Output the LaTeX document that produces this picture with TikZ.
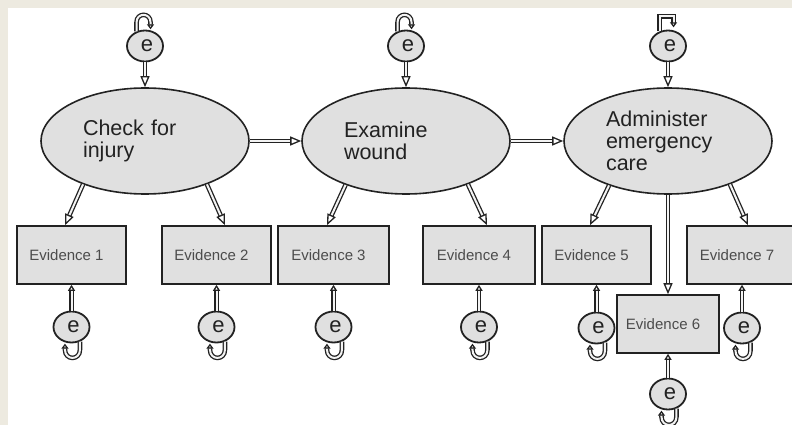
\documentclass[tikz,border=0pt]{standalone}
\usepackage{fontspec}
\setmainfont{Liberation Sans}
\usetikzlibrary{shapes.geometric,arrows.meta}
\definecolor{frame}{HTML}{EDEAE0}
\definecolor{ink}{HTML}{222222}
\definecolor{shade}{HTML}{E0E0E0}
\begin{document}
\begin{tikzpicture}[x=1pt,y=-1pt,
  task/.style={ellipse, draw=ink, line width=1.6pt, fill=shade,
    minimum width=208pt, minimum height=106pt, inner sep=0pt,
    text width=124pt, align=left, text=ink,
    font=\fontsize{21.5}{22}\selectfont},
  evid/.style={rectangle, draw=ink, line width=1.6pt, fill=shade,
    minimum width=110pt, minimum height=58pt, inner sep=0pt,
    text=black!70, font=\fontsize{15}{18}\selectfont,
    execute at begin node=\hspace*{-10pt}},
  err/.style={ellipse, draw=ink, line width=1.8pt, fill=shade,
    minimum width=36pt, minimum height=31pt, inner sep=0pt,
    text=ink, font=\fontsize{22}{22}\selectfont,
    execute at begin node=\hspace*{4pt}},
  link/.style={draw=ink, line width=1.3pt, double=white!60!shade,
    double distance=2pt, -{Triangle[open,length=11pt,width=9pt]}},
  selfloop/.style={draw=ink, line width=1.3pt, double=white!60!shade,
    double distance=2pt, -{Triangle[open,length=5pt,width=7pt]}}]

\useasboundingbox (0,0) rectangle (792,425);
\clip (0,0) rectangle (792,425);
\fill[frame] (0,0) rectangle (792,425);
\fill[white] (8,8) rectangle (792,425);

% latent task variables
\node[task] (E1) at (145,141) {Check for\\injury};
\node[task] (E2) at (406,141) {Examine\\wound};
\node[task] (E3) at (668,141) {Administer\\emergency\\care};

% error terms of the tasks
\node[err] (t1) at (145,46) {e};
\node[err] (t2) at (406,46) {e};
\node[err] (t3) at (668,46) {e};

% observed evidence
\node[evid, minimum width=109pt] (ev1) at (71.5,255) {Evidence 1};
\node[evid, minimum width=109pt] (ev2) at (216.5,255) {Evidence 2};
\node[evid, minimum width=111pt] (ev3) at (333.5,255) {Evidence 3};
\node[evid, minimum width=112pt] (ev4) at (479,255) {Evidence 4};
\node[evid, minimum width=109pt] (ev5) at (596.5,255) {Evidence 5};
\node[evid, minimum width=102pt] (ev6) at (668,324) {Evidence 6};
\node[evid, minimum width=110pt] (ev7) at (742,255) {Evidence 7};

% error terms of the evidence
\node[err] (b1) at (71.5,327) {e};
\node[err] (b2) at (216.5,327) {e};
\node[err] (b3) at (333.5,327) {e};
\node[err] (b4) at (479,327) {e};
\node[err] (b5) at (596.5,328) {e};
\node[err] (b6) at (668,394) {e};
\node[err] (b7) at (742,328) {e};

% task sequence
\draw[link] (E1) -- (E2);
\draw[link] (E2) -- (E3);

% task errors
\draw[link] (t1) -- (E1);
\draw[link] (t2) -- (E2);
\draw[link] (t3) -- (E3);

% tasks to evidence
\draw[link] (E1.215) -- ([xshift=-6.5pt]ev1.north);
\draw[link] (E1.325) -- ([xshift=8.5pt]ev2.north);
\draw[link] (E2.216) -- ([xshift=-6.5pt]ev3.north);
\draw[link] (E2.325) -- ([xshift=8pt]ev4.north);
\draw[link] (E3.217) -- ([xshift=-6.5pt]ev5.north);
\draw[link] (E3) -- (ev6);
\draw[link] (E3.325) -- ([xshift=6pt]ev7.north);

% evidence errors
\foreach \b/\v in {b1/ev1,b2/ev2,b3/ev3,b4/ev4,b5/ev5,b6/ev6,b7/ev7}
  \draw[link, -{Triangle[open,length=6pt,width=7pt]}] (\b) -- (\v);

% variance loops
\foreach \t in {t1,t2}
  \draw[selfloop] (\t.120) -- ++(0,-9) .. controls +(0,-10) and +(0,-10) .. ++(14,0) -- ++(0,7);
\draw[selfloop, line join=miter] (t3.120) -- ++(0,-15) -- ++(14,0) -- ++(0,11);
\foreach \b in {b1,b2,b3,b4,b5,b6,b7}
  \draw[selfloop] (\b.-60) -- ++(0,8) .. controls +(0,11) and +(0,11) .. ++(-15,0) -- ++(0,-6);
\end{tikzpicture}
\end{document}
